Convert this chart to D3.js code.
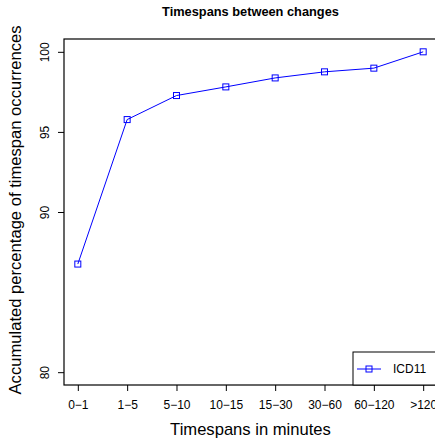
<!DOCTYPE html>
<html>
<head>
<meta charset="utf-8">
<script src="https://d3js.org/d3.v7.min.js"></script>
<style>
  body { margin: 0; background: #fff; }
  svg { font-family: "Liberation Sans", Arial, sans-serif; }
</style>
</head>
<body>
<svg width="435" height="442"></svg>
<script>
const categories = ["0\u22121", "1\u22125", "5\u221210", "10\u221215", "15\u221230", "30\u221260", "60\u2212120", ">120"];
const icd11 = [86.75, 95.77, 97.27, 97.81, 98.37, 98.75, 98.98, 100];
const yTicks = [80, 90, 95, 100];
const seriesName = "ICD11";

const svg = d3.select("svg");
const plot = { left: 64, right: 437, top: 39, bottom: 385 };

const x = d3.scalePoint().domain(categories).range([plot.left, plot.right]).padding(0.28);
const y = d3.scaleLinear().domain([79.2, 100.8]).range([plot.bottom, plot.top]);

// title
svg.append("text").attr("x", (plot.left + plot.right) / 2).attr("y", 16)
  .attr("text-anchor", "middle").attr("font-weight", "bold").attr("font-size", 12.8)
  .text("Timespans between changes");

// y axis
const yaxis = svg.append("g").attr("transform", "translate(" + plot.left + ",0)")
  .call(d3.axisLeft(y).tickValues(yTicks).tickSize(6).tickFormat(d3.format("d")));
yaxis.select(".domain").remove();
yaxis.selectAll(".tick line").attr("stroke", "#000");
yaxis.selectAll(".tick text")
  .attr("x", null).attr("dy", null)
  .attr("transform", "translate(-15,0) rotate(-90)")
  .attr("text-anchor", "middle").attr("font-size", 12).attr("fill", "#000")
  .attr("font-family", "Liberation Sans, Arial, sans-serif");

// x axis
const xaxis = svg.append("g").attr("transform", "translate(0," + plot.bottom + ")")
  .call(d3.axisBottom(x).tickSize(6));
xaxis.select(".domain").remove();
xaxis.selectAll(".tick line").attr("stroke", "#000");
xaxis.selectAll(".tick text")
  .attr("y", 24).attr("dy", null)
  .attr("font-size", 12).attr("fill", "#000")
  .attr("font-family", "Liberation Sans, Arial, sans-serif");

// box
svg.append("rect").attr("x", plot.left).attr("y", plot.top)
  .attr("width", plot.right - plot.left).attr("height", plot.bottom - plot.top)
  .attr("fill", "none").attr("stroke", "#000").attr("stroke-width", 1.2);

// axis titles
svg.append("text").attr("x", (plot.left + plot.right) / 2).attr("y", 435)
  .attr("text-anchor", "middle").attr("font-size", 16.6).text("Timespans in minutes");
svg.append("text").attr("transform", "translate(21,210) rotate(-90)")
  .attr("text-anchor", "middle").attr("font-size", 16.6)
  .text("Accumulated percentage of timespan occurrences");

// series
const line = d3.line().x((d, i) => x(categories[i])).y(d => y(d));
svg.append("path").datum(icd11).attr("d", line)
  .attr("fill", "none").attr("stroke", "#0000ff").attr("stroke-width", 1);
svg.selectAll(".pt").data(icd11).enter().append("rect").attr("class", "pt")
  .attr("x", (d, i) => x(categories[i]) - 3).attr("y", d => y(d) - 3)
  .attr("width", 6).attr("height", 6)
  .attr("fill", "none").attr("stroke", "#0000ff").attr("stroke-width", 1);

// legend
const lg = svg.append("g");
lg.append("rect").attr("x", 353).attr("y", 352).attr("width", 100).attr("height", plot.bottom - 352)
  .attr("fill", "#fff").attr("stroke", "#000").attr("stroke-width", 1);
lg.append("line").attr("x1", 357).attr("x2", 381).attr("y1", 369).attr("y2", 369)
  .attr("stroke", "#0000ff");
lg.append("rect").attr("x", 366).attr("y", 366).attr("width", 6).attr("height", 6)
  .attr("fill", "none").attr("stroke", "#0000ff");
lg.append("text").attr("x", 393).attr("y", 373).attr("font-size", 12).text(seriesName);
</script>
</body>
</html>
